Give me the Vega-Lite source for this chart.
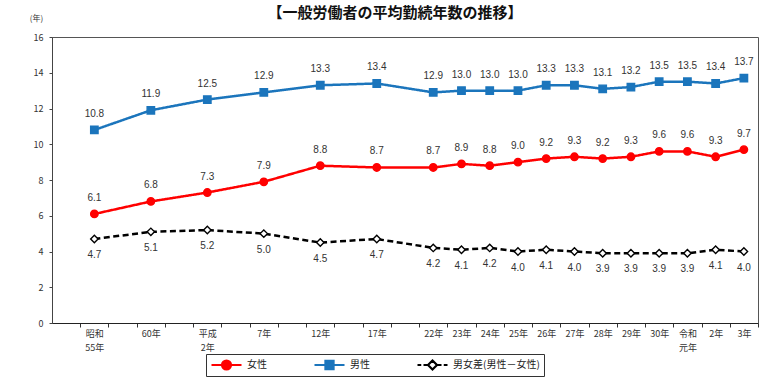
{
  "$schema": "https://vega.github.io/schema/vega-lite/v6.json",
  "width": 706,
  "height": 286,
  "autosize": {"type": "none"},
  "padding": {"left": 52, "top": 37, "right": 26, "bottom": 57},
  "background": "white",
  "config": {
    "view": {"stroke": "#555", "strokeWidth": 1},
    "font": "Noto Sans CJK JP",
    "legend": {
      "orient": "none",
      "legendX": 154,
      "legendY": 317,
      "direction": "horizontal",
      "strokeColor": "#333",
      "padding": 4,
      "symbolSize": 900,
      "clipHeight": 14,
      "symbolStrokeWidth": 2.2,
      "labelFontSize": 10,
      "labelColor": "#222",
      "labelOffset": 4,
      "columnPadding": 46
    }
  },
  "title": {
    "text": "【一般労働者の平均勤続年数の推移】",
    "fontSize": 15,
    "fontWeight": "bold",
    "font": "Noto Sans CJK JP",
    "color": "#111",
    "anchor": "middle",
    "dx": -10,
    "offset": -7
  },
  "data": {
    "values": [
      {"year": "昭和55年", "series": "男性", "value": 10.8},
      {"year": "60年", "series": "男性", "value": 11.9},
      {"year": "平成2年", "series": "男性", "value": 12.5},
      {"year": "7年", "series": "男性", "value": 12.9},
      {"year": "12年", "series": "男性", "value": 13.3},
      {"year": "17年", "series": "男性", "value": 13.4},
      {"year": "22年", "series": "男性", "value": 12.9},
      {"year": "23年", "series": "男性", "value": 13.0},
      {"year": "24年", "series": "男性", "value": 13.0},
      {"year": "25年", "series": "男性", "value": 13.0},
      {"year": "26年", "series": "男性", "value": 13.3},
      {"year": "27年", "series": "男性", "value": 13.3},
      {"year": "28年", "series": "男性", "value": 13.1},
      {"year": "29年", "series": "男性", "value": 13.2},
      {"year": "30年", "series": "男性", "value": 13.5},
      {"year": "令和元年", "series": "男性", "value": 13.5},
      {"year": "2年", "series": "男性", "value": 13.4},
      {"year": "3年", "series": "男性", "value": 13.7},
      {"year": "昭和55年", "series": "女性", "value": 6.1},
      {"year": "60年", "series": "女性", "value": 6.8},
      {"year": "平成2年", "series": "女性", "value": 7.3},
      {"year": "7年", "series": "女性", "value": 7.9},
      {"year": "12年", "series": "女性", "value": 8.8},
      {"year": "17年", "series": "女性", "value": 8.7},
      {"year": "22年", "series": "女性", "value": 8.7},
      {"year": "23年", "series": "女性", "value": 8.9},
      {"year": "24年", "series": "女性", "value": 8.8},
      {"year": "25年", "series": "女性", "value": 9.0},
      {"year": "26年", "series": "女性", "value": 9.2},
      {"year": "27年", "series": "女性", "value": 9.3},
      {"year": "28年", "series": "女性", "value": 9.2},
      {"year": "29年", "series": "女性", "value": 9.3},
      {"year": "30年", "series": "女性", "value": 9.6},
      {"year": "令和元年", "series": "女性", "value": 9.6},
      {"year": "2年", "series": "女性", "value": 9.3},
      {"year": "3年", "series": "女性", "value": 9.7},
      {"year": "昭和55年", "series": "男女差(男性－女性)", "value": 4.7},
      {"year": "60年", "series": "男女差(男性－女性)", "value": 5.1},
      {"year": "平成2年", "series": "男女差(男性－女性)", "value": 5.2},
      {"year": "7年", "series": "男女差(男性－女性)", "value": 5.0},
      {"year": "12年", "series": "男女差(男性－女性)", "value": 4.5},
      {"year": "17年", "series": "男女差(男性－女性)", "value": 4.7},
      {"year": "22年", "series": "男女差(男性－女性)", "value": 4.2},
      {"year": "23年", "series": "男女差(男性－女性)", "value": 4.1},
      {"year": "24年", "series": "男女差(男性－女性)", "value": 4.2},
      {"year": "25年", "series": "男女差(男性－女性)", "value": 4.0},
      {"year": "26年", "series": "男女差(男性－女性)", "value": 4.1},
      {"year": "27年", "series": "男女差(男性－女性)", "value": 4.0},
      {"year": "28年", "series": "男女差(男性－女性)", "value": 3.9},
      {"year": "29年", "series": "男女差(男性－女性)", "value": 3.9},
      {"year": "30年", "series": "男女差(男性－女性)", "value": 3.9},
      {"year": "令和元年", "series": "男女差(男性－女性)", "value": 3.9},
      {"year": "2年", "series": "男女差(男性－女性)", "value": 4.1},
      {"year": "3年", "series": "男女差(男性－女性)", "value": 4.0}
    ]
  },
  "encoding": {
    "x": {
      "field": "year",
      "type": "nominal",
      "scale": {
        "type": "point",
        "padding": 0.5,
        "domain": ["s0", "昭和55年", "s2", "60年", "s4", "平成2年", "s6", "7年", "s8", "12年", "s10", "17年", "s12", "22年", "23年", "24年", "25年", "26年", "27年", "28年", "29年", "30年", "令和元年", "2年", "3年"]
      },
      "axis": {
        "title": null,
        "labelAngle": 0,
        "labelFontSize": 9,
        "labelColor": "#333",
        "labelPadding": 2,
        "labelLineHeight": 14,
        "labelOverlap": false,
        "labelBound": false,
        "tickOffset": 14.12,
        "labelOffset": -14.12,
        "tickSize": 4,
        "tickColor": "#333",
        "domainColor": "#222",
        "domainWidth": 1.2,
        "labelExpr": "indexof(datum.value, 's') == 0 ? '' : datum.value == '昭和55年' ? ['昭和', '55年'] : datum.value == '平成2年' ? ['平成', '2年'] : datum.value == '令和元年' ? ['令和', '元年'] : datum.value"
      }
    },
    "y": {
      "field": "value",
      "type": "quantitative",
      "scale": {"domain": [0, 16]},
      "axis": {
        "title": "(年)",
        "titleAngle": 0,
        "titleFontSize": 8,
        "titleFontWeight": "normal",
        "titleColor": "#333",
        "titleX": -16,
        "titleY": -15,
        "titleAlign": "center",
        "values": [0, 2, 4, 6, 8, 10, 12, 14, 16],
        "grid": false,
        "labelFontSize": 9,
        "labelColor": "#333",
        "labelPadding": 6,
        "tickSize": 3,
        "tickColor": "#444",
        "domainColor": "#444"
      }
    },
    "order": {"value": null}
  },
  "resolve": {"scale": {"stroke": "independent", "fill": "independent", "shape": "independent"}},
  "layer": [
    {
      "mark": {"type": "line", "strokeWidth": 2.5},
      "encoding": {
        "color": {
          "field": "series",
          "type": "nominal",
          "scale": {"domain": ["男性", "女性", "男女差(男性－女性)"], "range": ["#1b75bc", "#ff0000", "#000000"]},
          "legend": null
        },
        "strokeDash": {
          "field": "series",
          "type": "nominal",
          "scale": {"domain": ["男性", "女性", "男女差(男性－女性)"], "range": [[1, 0], [1, 0], [6, 3.5]]},
          "legend": null
        }
      }
    },
    {
      "mark": {"type": "point", "filled": false, "strokeWidth": 1.4, "opacity": 1},
      "encoding": {
        "stroke": {
          "field": "series",
          "type": "nominal",
          "scale": {"domain": ["男性", "女性", "男女差(男性－女性)"], "range": ["#1b75bc", "#ff0000", "#000000"]},
          "legend": null
        },
        "fill": {
          "field": "series",
          "type": "nominal",
          "scale": {"domain": ["男性", "女性", "男女差(男性－女性)"], "range": ["#1b75bc", "#ff0000", "#ffffff"]},
          "legend": null
        },
        "shape": {
          "field": "series",
          "type": "nominal",
          "scale": {"domain": ["男性", "女性", "男女差(男性－女性)"], "range": ["square", "circle", "diamond"]},
          "legend": null
        },
        "size": {
          "field": "series",
          "type": "nominal",
          "scale": {"domain": ["男性", "女性", "男女差(男性－女性)"], "range": [55, 55, 40]},
          "legend": null
        }
      }
    },
    {
      "transform": [{"filter": "datum.value < 0"}],
      "mark": {"type": "point", "filled": false, "opacity": 1},
      "encoding": {
        "stroke": {
          "field": "series",
          "type": "nominal",
          "scale": {"domain": ["女性", "男性", "男女差(男性－女性)"], "range": ["#ff0000", "#1b75bc", "#000000"]},
          "legend": {"title": null}
        },
        "fill": {
          "field": "series",
          "type": "nominal",
          "scale": {"domain": ["女性", "男性", "男女差(男性－女性)"], "range": ["#ff0000", "#1b75bc", "#ffffff"]},
          "legend": {"title": null}
        },
        "shape": {
          "field": "series",
          "type": "nominal",
          "scale": {
            "domain": ["女性", "男性", "男女差(男性－女性)"],
            "range": [
              "M-1,0H1M-0.3,0A0.3,0.3,0,1,1,0.3,0A0.3,0.3,0,1,1,-0.3,0Z",
              "M-1,0H1M-0.27,-0.27H0.27V0.27H-0.27Z",
              "M-1,0H-0.75M-0.6,0H-0.3M0.3,0H0.6M0.75,0H1M0,-0.3L0.3,0L0,0.3L-0.3,0Z"
            ]
          },
          "legend": {"title": null}
        }
      }
    },
    {
      "transform": [{"filter": "datum.series != '男女差(男性－女性)'"}],
      "mark": {"type": "text", "dy": -16, "fontSize": 10, "color": "#333", "font": "Liberation Sans"},
      "encoding": {"text": {"field": "value", "type": "quantitative", "format": ".1f"}}
    },
    {
      "transform": [{"filter": "datum.series == '男女差(男性－女性)'"}],
      "mark": {"type": "text", "dy": 16, "fontSize": 10, "color": "#333", "font": "Liberation Sans"},
      "encoding": {"text": {"field": "value", "type": "quantitative", "format": ".1f"}}
    }
  ]
}
